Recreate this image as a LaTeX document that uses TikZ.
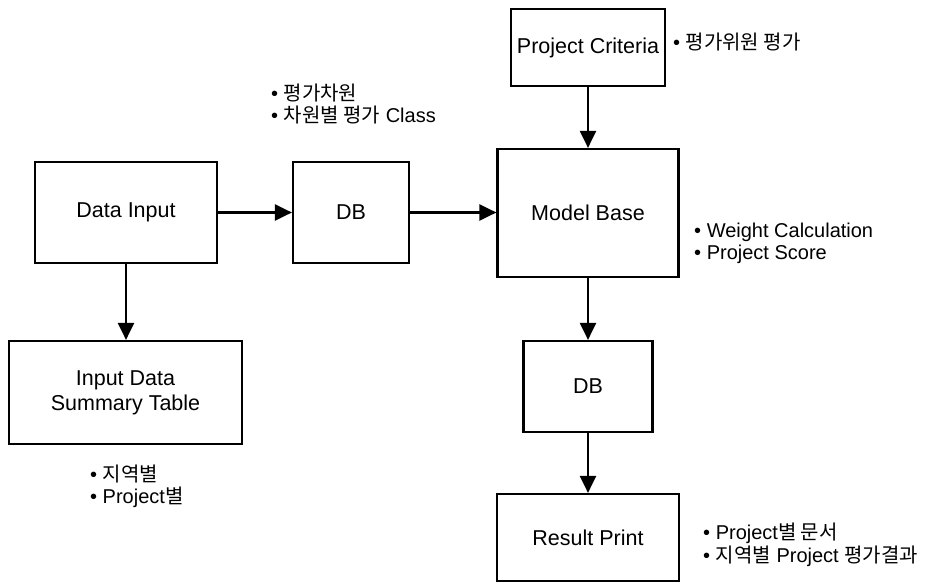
\documentclass[tikz,border=0pt]{standalone}
\usepackage{fontspec}
\setmainfont{Liberation Sans}
\newfontfamily\kr{Noto Sans CJK KR}
\usetikzlibrary{arrows.meta}
\begin{document}
\begin{tikzpicture}[x=1pt,y=-1pt,
  box/.style={draw, line width=2.2pt, inner sep=0pt, align=center,
    font=\fontsize{21.5}{25}\selectfont},
  arr/.style={line width=2.2pt, -{Triangle[length=17pt,width=16pt]}},
  note/.style={anchor=west, inner sep=0pt, align=left,
    font=\fontsize{20}{22.5}\selectfont}]
\useasboundingbox (0,0) rectangle (936,583);

\node[box, minimum width=182pt, minimum height=101pt] (di) at (126,212.5) {Data Input};
\node[box, minimum width=116pt, minimum height=101pt] (db1) at (351,212.5) {DB};
\node[box, minimum width=181pt, minimum height=128pt] (mb) at (588,213) {Model Base};
\node[box, minimum width=154pt, minimum height=77pt] (pc) at (588,47.5) {Project Criteria};
\node[box, minimum width=129pt, minimum height=91pt] (db2) at (588,386.5) {DB};
\node[box, minimum width=182pt, minimum height=87pt] (rp) at (588,537.5) {Result Print};
\node[box, minimum width=233pt, minimum height=103pt] (ids) at (125.5,392.5) {Input Data\\Summary Table};

\draw[arr] (di.east) -- (db1.west);
\draw[arr] (db1.east) -- (db1.east -| mb.west);
\draw[arr] (pc.south) -- (mb.north);
\draw[arr] (mb.south) -- (db2.north);
\draw[arr] (db2.south) -- (rp.north);
\draw[arr] (di.south) -- (di.south |- ids.north);

\node[note] (n1) at (271,104) {• {\kr 평가차원}\\• {\kr 차원별 평가} Class};
\node[note] (n2) at (673,42) {• {\kr 평가위원 평가}};
\node[note] (n3) at (694,243.5) {• Weight Calculation\\• Project Score};
\node[note] (n4) at (90,486.5) {• {\kr 지역별}\\• Project{\kr 별}};
\node[note] (n5) at (703,545) {• Project{\kr 별 문서}\\• {\kr 지역별} Project {\kr 평가결과}};
\end{tikzpicture}
\end{document}
